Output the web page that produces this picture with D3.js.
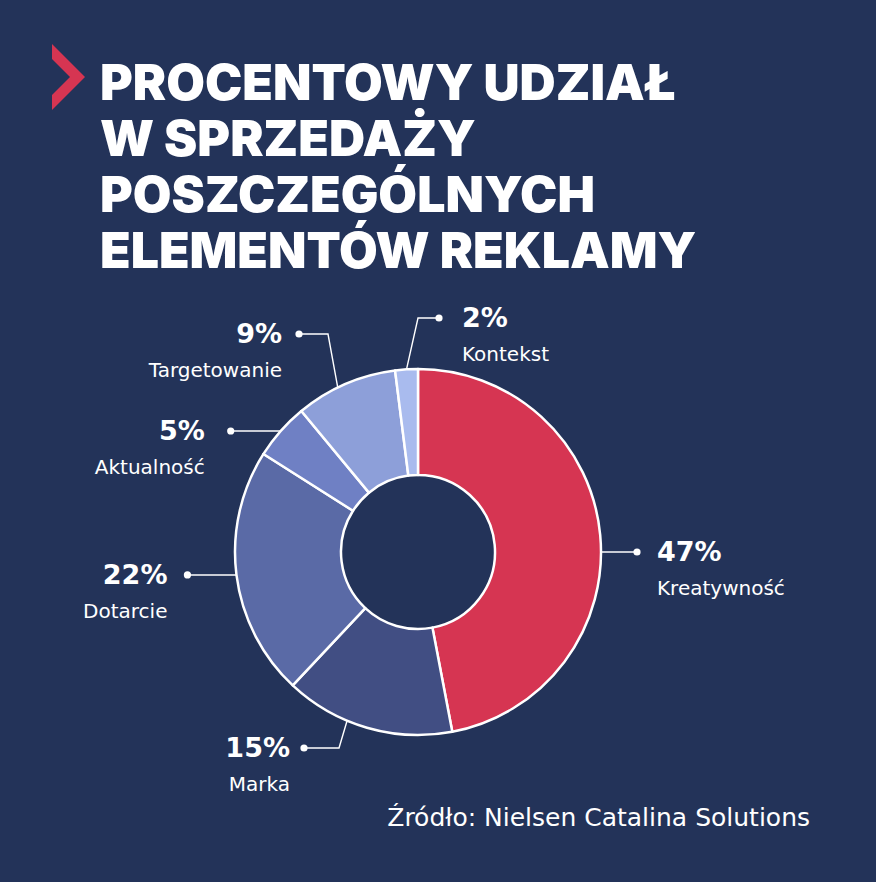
<!DOCTYPE html>
<html>
<head>
<meta charset="utf-8">
<script src="https://cdn.jsdelivr.net/npm/d3@7"></script>
<style>
  html, body { margin: 0; padding: 0; background: #233359; }
  svg { display: block; }
</style>
</head>
<body>
<svg id="chart" width="876" height="882"></svg>
<script>
// data
var categories = ["Kreatywność", "Marka", "Dotarcie", "Aktualność", "Targetowanie", "Kontekst"];
var shares = [47, 15, 22, 5, 9, 2];
var sliceColors = ["#d63552", "#414e83", "#5a6aa6", "#6f80c4", "#8d9fd9", "#a9bbee"];
var titleLines = ["PROCENTOWY UDZIAŁ", "W SPRZEDAŻY", "POSZCZEGÓLNYCH", "ELEMENTÓW REKLAMY"];
var sourceText = "Źródło: Nielsen Catalina Solutions";

var FONT = "'DejaVu Sans', 'Open Sans', sans-serif";
var TITLE_FONT = "Inter, 'DejaVu Sans', sans-serif";
var cx = 418, cy = 552, R = 183, r0 = 77;
var toRad = Math.PI / 180;

// leader layout for each slice: angle on the rim (deg, null = mid), bend, dot, text side
var leaders = [
  { angle: 90,   len: 36,  side: 1,  gap: 20 },
  { angle: 202.8, elbow: [-79, 196], dot: [-114, 196], side: -1, gap: 14 },
  { angle: null, len: 49,  side: -1, gap: 20 },
  { angle: null, len: 50,  side: -1, gap: 26 },
  { angle: 334,  elbow: [-90, -218], dot: [-119, -218], side: -1, gap: 17 },
  { angle: null, elbow: [0, -234], dot: [21, -234], side: 1, gap: 23 }
];

var svg = d3.select("#chart");

svg.append("rect").attr("width", 876).attr("height", 882).attr("fill", "#233359");

// chevron
svg.append("path")
  .attr("d", "M52,44 L85,77 L52,110 L52,95 L70,77 L52,59 Z")
  .attr("fill", "#d63552");

var title = svg.append("g").attr("class", "title");
title.selectAll("text")
  .data(titleLines)
  .enter()
  .append("text")
  .attr("x", 100)
  .attr("y", function (d, i) { return 100 + i * 56; })
  .attr("font-family", TITLE_FONT)
  .attr("font-weight", 900)
  .attr("font-size", 50)
  .attr("fill", "#ffffff")
  .text(function (d) { return d; });

var pie = d3.pie().sort(null).value(function (d) { return d; });
var arcs = pie(shares);
var arc = d3.arc().innerRadius(r0).outerRadius(R);

var g = svg.append("g").attr("transform", "translate(" + cx + "," + cy + ")");

g.selectAll("path.slice")
  .data(arcs)
  .enter()
  .append("path")
  .attr("class", "slice")
  .attr("d", arc)
  .attr("fill", function (d, i) { return sliceColors[i]; })
  .attr("stroke", "#ffffff")
  .attr("stroke-width", 2.5)
  .attr("stroke-linejoin", "round");

// leaders and labels
arcs.forEach(function (a, i) {
  var L = leaders[i];
  var ang = L.angle == null ? (a.startAngle + a.endAngle) / 2 : L.angle * toRad;
  var sx = R * Math.sin(ang), sy = -R * Math.cos(ang);
  var pts = [[sx, sy]];
  var dot;
  if (L.elbow) {
    pts.push(L.elbow);
    dot = L.dot;
  } else {
    dot = [sx + L.side * L.len, sy];
  }
  pts.push(dot);

  g.append("path")
    .attr("d", d3.line()(pts))
    .attr("fill", "none")
    .attr("stroke", "#ffffff")
    .attr("stroke-width", 1.4);
  g.append("circle")
    .attr("cx", dot[0]).attr("cy", dot[1]).attr("r", 3.6)
    .attr("fill", "#ffffff");

  var tx = dot[0] + L.side * L.gap;
  var anchor = L.side > 0 ? "start" : "end";
  g.append("text")
    .attr("x", tx).attr("y", dot[1] + 9)
    .attr("text-anchor", anchor)
    .attr("font-family", FONT)
    .attr("font-weight", "bold")
    .attr("font-size", 27)
    .attr("fill", "#ffffff")
    .text(shares[i] + "%");
  g.append("text")
    .attr("x", tx).attr("y", dot[1] + 43)
    .attr("text-anchor", anchor)
    .attr("font-family", FONT)
    .attr("font-size", 20)
    .attr("fill", "#ffffff")
    .text(categories[i]);
});

svg.append("text")
  .attr("x", 810).attr("y", 826)
  .attr("text-anchor", "end")
  .attr("font-family", FONT)
  .attr("font-size", 25)
  .attr("fill", "#ffffff")
  .text(sourceText);
</script>
</body>
</html>
